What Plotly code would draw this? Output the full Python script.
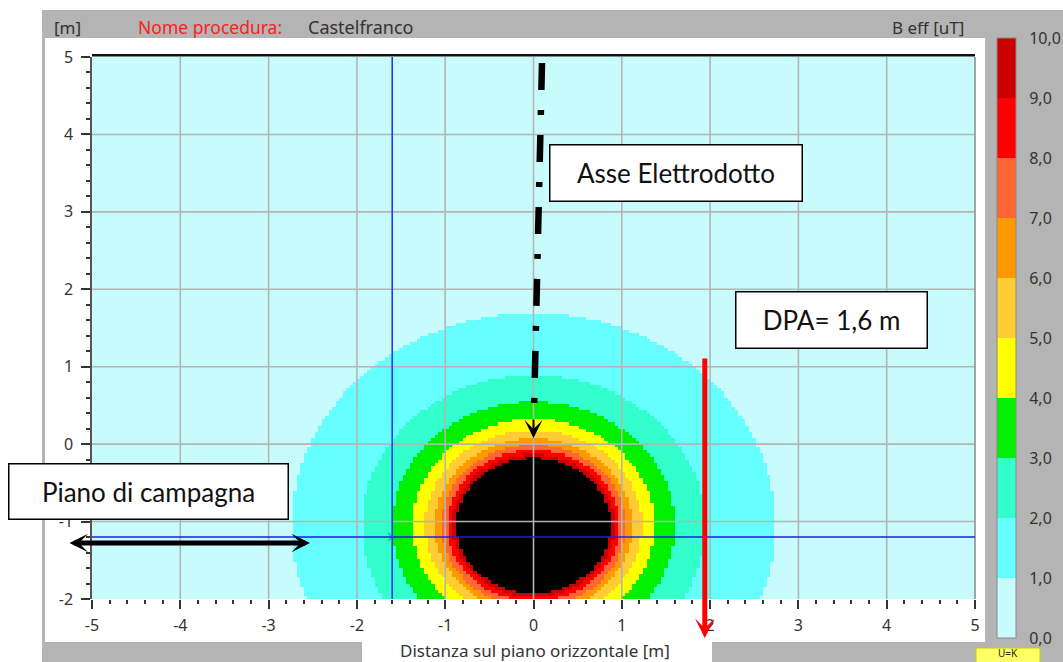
import numpy as np
import plotly.graph_objects as go

FIG_W, FIG_H = 1063, 662
PL, PR, PT, PB = 92, 975, 57, 599   # plot area in pixels

# ---------------- data ----------------
x_ticks = [-5, -4, -3, -2, -1, 0, 1, 2, 3, 4, 5]
y_ticks = [-2, -1, 0, 1, 2, 3, 4, 5]
scale_values = [0, 1, 2, 3, 4, 5, 6, 7, 8, 9, 10]
scale_labels = ["0,0", "1,0", "2,0", "3,0", "4,0", "5,0", "6,0", "7,0", "8,0", "9,0", "10,0"]
band_colors = ["#c8fcfc", "#66ffff", "#33ffcc", "#00f000", "#ffff00",
               "#ffcc33", "#ff9900", "#ff6633", "#ff0000", "#cc0000"]
core_color = "#000000"            # B eff > 10 uT
iso_levels = [1, 2, 3, 4, 5, 6, 7, 8, 9, 10]                 # uT
iso_radius = [2.74, 1.94, 1.60, 1.37, 1.23, 1.12, 1.045, 0.975, 0.92, 0.875]  # m
source_x, source_y = 0.0, -1.05   # centre of the field map (cable axis)
ground_y = -1.2                   # blue horizontal line
cursor_x = -1.6                   # blue vertical line
dpa_x = 1.94                      # red DPA arrow

# ---------------- helpers (pixel -> paper) ----------------
def px(x):
    return (x - PL) / (PR - PL)

def py(y):
    return (PB - y) / (PB - PT)

def dy(ypix):  # pixel row -> data y
    return 5 - (ypix - PT) * 7 / (PB - PT)

def dx(xpix):
    return -5 + (xpix - PL) * 10 / (PR - PL)

# ---------------- field map from the read iso-radii ----------------
step = 0.04
gx = np.arange(-5 + step / 2, 5, step)
gy = np.arange(-2 + step / 2, 5, step)
X, Y = np.meshgrid(gx, gy)
D = np.hypot(X - source_x, Y - source_y)
k = np.zeros(D.shape, dtype=int)
for r in iso_radius:
    k += (D < r)
band_z = np.where(k < len(iso_levels), k + 0.5, np.nan)
core_z = np.where(k >= len(iso_levels), 1.0, np.nan)

n = len(band_colors)
cscale = []
for i, c in enumerate(band_colors):
    cscale.append([i / n, c])
    cscale.append([(i + 1) / n, c])

fig = go.Figure()
fig.add_trace(go.Heatmap(
    x=gx, y=gy, z=band_z, zmin=scale_values[0], zmax=scale_values[-1],
    colorscale=cscale, zsmooth=False, hoverinfo="skip",
    colorbar=dict(
        x=px(997), xanchor="left", xpad=0, ypad=0,
        y=py(338), yanchor="middle", len=600, lenmode="pixels",
        thickness=19, thicknessmode="pixels",
        outlinewidth=1, outlinecolor="#8a8a8a",
        tickvals=scale_values, ticktext=scale_labels,
        ticks="outside", ticklen=10, tickcolor="rgba(0,0,0,0)",
        tickfont=dict(family="Noto Sans", size=16, color="#333333"),
        bgcolor="rgba(0,0,0,0)",
    ),
))
fig.add_trace(go.Heatmap(
    x=gx, y=gy, z=core_z, zmin=0, zmax=1,
    colorscale=[[0, core_color], [1, core_color]], zsmooth=False,
    showscale=False, hoverinfo="skip",
))
fig.add_trace(go.Scatter(
    x=[cursor_x], y=[ground_y], mode="markers",
    marker=dict(symbol="x-thin-open", size=8, line=dict(color="#2f8fbf", width=1.5)),
    hoverinfo="skip", showlegend=False,
))

shapes = []
# background panels (figure chrome)
shapes.append(dict(type="rect", xref="paper", yref="paper", layer="below",
                   x0=px(42), x1=px(1070), y0=py(10), y1=py(670),
                   fillcolor="#b4b4b4", line=dict(width=0)))
shapes.append(dict(type="rect", xref="paper", yref="paper", layer="below",
                   x0=px(45), x1=px(985), y0=py(38), y1=py(642),
                   fillcolor="#ffffff", line=dict(width=0)))
shapes.append(dict(type="rect", xref="paper", yref="paper", layer="below",
                   x0=px(362), x1=px(712), y0=py(641), y1=py(670),
                   fillcolor="#ffffff", line=dict(width=0)))
shapes.append(dict(type="rect", xref="paper", yref="paper", layer="below",
                   x0=px(976), x1=px(1040), y0=py(648), y1=py(672),
                   fillcolor="#ffff66", line=dict(color="#c8c800", width=1)))
# grid lines above the field
for v in x_ticks[1:-1]:
    shapes.append(dict(type="line", xref="x", yref="y", x0=v, x1=v, y0=-2, y1=5,
                       line=dict(color="#b4b4b4", width=1.6)))
for v in y_ticks[1:-1]:
    shapes.append(dict(type="line", xref="x", yref="y", x0=-5, x1=5, y0=v, y1=v,
                       line=dict(color="#b4b4b4", width=1.6)))
# plot frame
shapes.append(dict(type="line", xref="paper", yref="paper", x0=0, x1=1, y0=1.003, y1=1.003,
                   line=dict(color="#111111", width=2.5)))
shapes.append(dict(type="line", xref="paper", yref="paper", x0=1, x1=1, y0=0, y1=1,
                   line=dict(color="#8a8a8a", width=1.5)))
# blue cursor lines
shapes.append(dict(type="line", xref="x", yref="y", x0=-5, x1=5, y0=ground_y, y1=ground_y,
                   line=dict(color="#1e1ee6", width=1.6)))
shapes.append(dict(type="line", xref="x", yref="y", x0=cursor_x, x1=cursor_x, y0=-2, y1=5,
                   line=dict(color="#1e3cff", width=1.6)))
# dash-dot "asse elettrodotto"
shapes.append(dict(type="line", xref="x", yref="y",
                   x0=dx(542), y0=dy(63), x1=dx(534), y1=dy(412),
                   line=dict(color="#000000", width=6.5, dash="27px,20px,5px,20px")))

annotations = []
# arrowhead of the dash-dot line
annotations.append(dict(x=0.0, y=dy(438), xref="x", yref="y", ax=0, ay=-20,
                        showarrow=True, arrowhead=3, arrowwidth=2, arrowsize=1.5,
                        arrowcolor="#000000", text=""))
# red DPA arrow
annotations.append(dict(x=dpa_x, y=dy(638), xref="x", yref="y",
                        ax=dpa_x, ay=dy(357), axref="x", ayref="y",
                        showarrow=True, arrowhead=3, arrowwidth=5, arrowsize=0.65,
                        arrowcolor="#ff0000", text=""))
# double arrow "piano di campagna"
annotations.append(dict(x=dx(310), y=dy(543), xref="x", yref="y",
                        ax=dx(68), ay=dy(543), axref="x", ayref="y",
                        showarrow=True, arrowside="end+start",
                        arrowhead=3, startarrowhead=3, arrowwidth=5,
                        arrowsize=0.62, startarrowsize=0.62,
                        arrowcolor="#000000", text=""))

box_font = dict(family="Lato", size=26, color="#111111")
def box(text, x0, x1, y0, y1):
    return dict(xref="paper", yref="paper", x=px((x0 + x1) / 2), y=py((y0 + y1) / 2),
                xanchor="center", yanchor="middle", showarrow=False, text=text,
                width=x1 - x0 - 3, height=y1 - y0 - 3, borderpad=0,
                bgcolor="#ffffff", bordercolor="#000000", borderwidth=1.5,
                font=box_font)

annotations.append(box("Asse Elettrodotto", 549, 803, 144, 202))
annotations.append(box("DPA= 1,6 m", 735, 928, 291, 349))
annotations.append(box("Piano di campagna", 8, 289, 463, 520))

def label(text, x, y, anchor="left", color="#333333", size=18):
    return dict(xref="paper", yref="paper", x=px(x), y=py(y), xanchor=anchor,
                yanchor="middle", showarrow=False, text=text,
                font=dict(family="Noto Sans", size=size, color=color))

annotations.append(label("[m]", 52, 27, size=17))
annotations.append(label("Nome procedura:", 136, 27, color="#ff2020", size=17.5))
annotations.append(label("Castelfranco", 306, 27))
annotations.append(label("B eff [uT]", 966, 27, anchor="right", size=17))
annotations.append(label("Distanza sul piano orizzontale [m]", 535, 650, anchor="center", size=17))
annotations.append(label("U=K", 1008, 653, anchor="center", color="#222222", size=10))

tick_font = dict(family="Noto Sans", size=16, color="#333333")
fig.update_xaxes(range=[-5, 5], tickvals=x_ticks, ticktext=[str(v) for v in x_ticks],
                 showgrid=False, zeroline=False, showline=False,
                 ticks="outside", ticklen=9, tickwidth=2, tickcolor="#333333",
                 ticklabelstandoff=3, tickfont=tick_font,
                 minor=dict(dtick=0.2, ticks="outside", ticklen=4, tickwidth=2,
                            tickcolor="#333333", showgrid=False))
fig.update_yaxes(range=[-2, 5], tickvals=y_ticks, ticktext=[str(v) for v in y_ticks],
                 showgrid=False, zeroline=False, showline=True, linecolor="#555555",
                 linewidth=1.5,
                 ticks="outside", ticklen=9, tickwidth=2, tickcolor="#333333",
                 ticklabelstandoff=5, tickfont=tick_font,
                 minor=dict(dtick=0.2, ticks="outside", ticklen=4, tickwidth=2,
                            tickcolor="#333333", showgrid=False))

fig.update_layout(
    width=FIG_W, height=FIG_H,
    margin=dict(l=PL, r=FIG_W - PR, t=PT, b=FIG_H - PB, pad=0, autoexpand=False),
    paper_bgcolor="#ffffff", plot_bgcolor="rgba(0,0,0,0)",
    showlegend=False, shapes=shapes, annotations=annotations,
)

fig.write_html("out.html", config={"displayModeBar": False},
               post_script="document.body.style.margin='0';")
